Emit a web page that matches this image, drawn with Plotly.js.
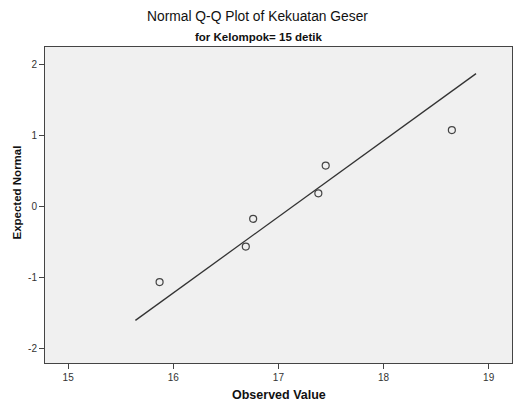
<!DOCTYPE html>
<html><head><meta charset="utf-8">
<script src="https://cdn.plot.ly/plotly-3.0.1.min.js"></script>
<style>html,body{margin:0;padding:0;background:#fff}#chart{width:514px;height:409px}</style>
</head><body><div id="chart"></div>
<script>
var observed = [15.87, 16.69, 16.76, 17.38, 17.45, 18.65];
var expectedNormal = [-1.07, -0.57, -0.18, 0.18, 0.57, 1.07];
var lineX = [15.64, 18.88];
var lineY = [-1.61, 1.865];
var xTicks = [15, 16, 17, 18, 19];
var yTicks = [-2, -1, 0, 1, 2];

var font = 'Liberation Sans, Arial, sans-serif';
var traces = [
  {x: lineX, y: lineY, mode: 'lines', type: 'scatter',
   line: {color: '#333333', width: 1.3}, hoverinfo: 'skip'},
  {x: observed, y: expectedNormal, mode: 'markers', type: 'scatter',
   marker: {symbol: 'circle-open', size: 7, color: '#444444', line: {width: 1.2, color: '#444444'}}}
];
var PW = 467.5, PH = 316, L = 45, B = 363;
function px(x){ return (x - L) / PW; }
function py(y){ return (B - y) / PH; }
var layout = {
  width: 514, height: 409,
  margin: {l: 45, r: 2, t: 47, b: 46},
  paper_bgcolor: '#ffffff', plot_bgcolor: '#f0f0f0',
  showlegend: false,
  font: {family: font, color: '#222222'},
  title: {text: 'Normal Q-Q Plot of Kekuatan Geser', font: {size: 13.8, family: font, color: '#111'},
          x: 257.5/514, xanchor: 'center', y: 1 - 16/409, yanchor: 'middle', yref: 'container', xref: 'container'},
  annotations: [
    {text: '<b>for Kelompok= 15 detik</b>', xref: 'paper', yref: 'paper',
     x: px(258.5), y: py(36.5), xanchor: 'center', yanchor: 'middle', showarrow: false,
     font: {size: 11.5, family: font, color: '#111'}},
    {text: '<b>Observed Value</b>', xref: 'paper', yref: 'paper',
     x: px(279), y: py(395), xanchor: 'center', yanchor: 'middle', showarrow: false,
     font: {size: 12.5, family: font, color: '#111'}},
    {text: '<b>Expected Normal</b>', xref: 'paper', yref: 'paper', textangle: -90,
     x: px(16.5), y: py(193), xanchor: 'center', yanchor: 'middle', showarrow: false,
     font: {size: 11.5, family: font, color: '#111'}}
  ],
  xaxis: {range: [14.78, 19.222], tickvals: xTicks, ticktext: xTicks.map(String),
    ticks: 'outside', ticklen: 5, tickcolor: '#444', tickwidth: 1,
    showgrid: false, zeroline: false, showline: true, linecolor: '#444', linewidth: 1, mirror: true,
    tickfont: {size: 10, color: '#333'}},
  yaxis: {range: [-2.21, 2.24], tickvals: yTicks, ticktext: yTicks.map(String),
    ticks: 'outside', ticklen: 5, tickcolor: '#444', tickwidth: 1,
    showgrid: false, zeroline: false, showline: true, linecolor: '#444', linewidth: 1, mirror: true,
    tickfont: {size: 10, color: '#333'}}
};
Plotly.newPlot('chart', traces, layout, {displayModeBar: false, staticPlot: true});
</script></body></html>
